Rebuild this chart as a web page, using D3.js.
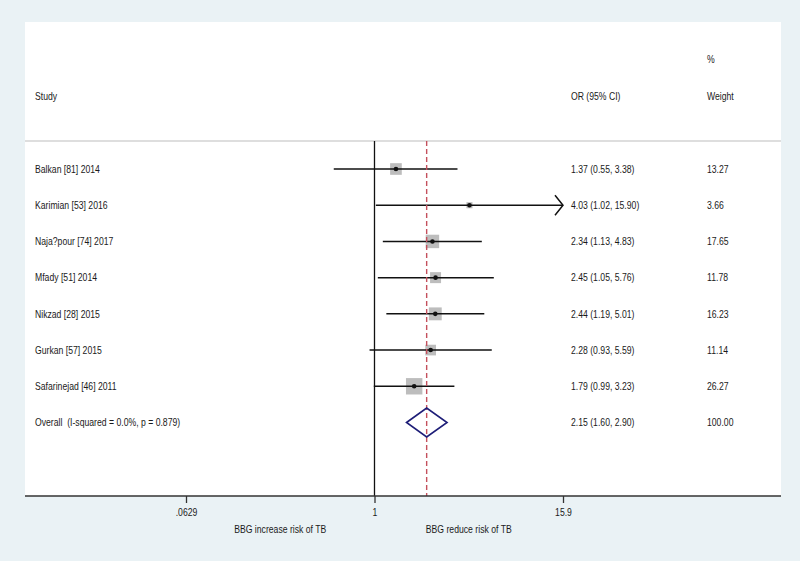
<!DOCTYPE html>
<html>
<head>
<meta charset="utf-8">
<script src="https://cdn.jsdelivr.net/npm/d3@7"></script>
<style>
  html, body { margin: 0; padding: 0; background: #eaf2f5; }
  svg { display: block; }
  text { font-family: "Liberation Sans", Arial, sans-serif; font-size: 10.5px; fill: #1a1a1a; white-space: pre; }
</style>
</head>
<body>
<svg id="chart" width="800" height="561"></svg>
<script>
// ---- data ----
const studies = ["Balkan [81] 2014", "Karimian [53] 2016", "Naja?pour [74] 2017", "Mfady [51] 2014",
                 "Nikzad [28] 2015", "Gurkan [57] 2015", "Safarinejad [46] 2011"];
const orValues = [1.37, 4.03, 2.34, 2.45, 2.44, 2.28, 1.79];
const ciLower  = [0.55, 1.02, 1.13, 1.05, 1.19, 0.93, 0.99];
const ciUpper  = [3.38, 15.90, 4.83, 5.76, 5.01, 5.59, 3.23];
const weights  = [13.27, 3.66, 17.65, 11.78, 16.23, 11.14, 26.27];
const overallLabel = "Overall  (I-squared = 0.0%, p = 0.879)";
const overallOR = 2.15, overallLower = 1.60, overallUpper = 2.90, overallWeight = 100.00;
const tickValues = [0.0629, 1, 15.9];
const tickLabels = [".0629", "1", "15.9"];
const axisNotes = ["BBG increase risk of TB", "BBG reduce risk of TB"];

const fmt2 = d3.format(".2f");
const rows = studies.map((s, i) => ({label: s, or: orValues[i], lo: ciLower[i], hi: ciUpper[i], w: weights[i]}));

const svg = d3.select("#chart");

// condensed text: measure a reference string and squeeze horizontally
const probe = svg.append("text").text(studies[0]);
const sx = 65 / probe.node().getComputedTextLength();
probe.remove();
function addText(g, x, y, str, anchor) {
  return g.append("text")
    .attr("transform", `translate(${x},${y}) scale(${sx},1)`)
    .attr("dy", "0.35em")
    .attr("text-anchor", anchor || "start")
    .text(str);
}

// panel
const panel = {left: 25, right: 781, top: 22, bottom: 496};
svg.append("rect").attr("x", 0).attr("y", 0).attr("width", 800).attr("height", 561).attr("fill", "#eaf2f5");
svg.append("rect").attr("x", panel.left).attr("y", panel.top)
  .attr("width", panel.right - panel.left).attr("height", panel.bottom - panel.top).attr("fill", "#ffffff");

// scales
const x = d3.scaleLog().domain([tickValues[0], tickValues[2]]).range([186, 563]);
const rowLabels = studies.concat([overallLabel]);
const y = d3.scalePoint().domain(rowLabels).range([169, 422.5]);
const side = d3.scaleSqrt().domain([0, 26.27]).range([0, 16.4]);

// header separator
svg.append("line").attr("x1", panel.left).attr("x2", panel.right).attr("y1", 141).attr("y2", 141)
  .attr("stroke", "#d3d3d3").attr("stroke-width", 1.5);

// header text
const colStudy = 35, colOR = 571, colW = 707;
const hg = svg.append("g");
addText(hg, colW, 59, "%");
addText(hg, colStudy, 96, "Study");
addText(hg, colOR, 96, "OR (95% CI)");
addText(hg, colW, 96, "Weight");

// null line
svg.append("line").attr("x1", x(1)).attr("x2", x(1)).attr("y1", 141).attr("y2", panel.bottom)
  .attr("stroke", "#111").attr("stroke-width", 1.3);

// squares
svg.append("g").selectAll("rect").data(rows).join("rect")
  .attr("x", d => x(d.or) - side(d.w) / 2)
  .attr("y", d => y(d.label) - side(d.w) / 2)
  .attr("width", d => side(d.w)).attr("height", d => side(d.w))
  .attr("fill", "#bdbdbd");

// CI lines
const xmax = x.domain()[1];
svg.append("g").selectAll("line").data(rows).join("line")
  .attr("x1", d => x(d.lo)).attr("x2", d => x(Math.min(d.hi, xmax)))
  .attr("y1", d => y(d.label)).attr("y2", d => y(d.label))
  .attr("stroke", "#111").attr("stroke-width", 1.5);

// arrows for truncated CIs
svg.append("g").selectAll("path").data(rows.filter(d => d.hi >= xmax)).join("path")
  .attr("d", d => {
    const tx = x(xmax), ty = y(d.label);
    return `M${tx - 8},${ty - 10} L${tx},${ty} L${tx - 8},${ty + 10}`;
  })
  .attr("fill", "none").attr("stroke", "#111").attr("stroke-width", 1.5);

// point estimates
svg.append("g").selectAll("circle").data(rows).join("circle")
  .attr("cx", d => x(d.or)).attr("cy", d => y(d.label)).attr("r", 2.3).attr("fill", "#111");

// overall dashed line
svg.append("line").attr("x1", x(overallOR)).attr("x2", x(overallOR)).attr("y1", 141).attr("y2", panel.bottom)
  .attr("stroke", "#c4505c").attr("stroke-width", 1.4).attr("stroke-dasharray", "5,3");

// overall diamond
const oy = y(overallLabel);
svg.append("path")
  .attr("d", `M${x(overallLower)},${oy} L${x(overallOR)},${oy - 14.5} L${x(overallUpper)},${oy} L${x(overallOR)},${oy + 14.5} Z`)
  .attr("fill", "none").attr("stroke", "#1e1e78").attr("stroke-width", 1.6);

// row text
const allRows = rows.concat([{label: overallLabel, or: overallOR, lo: overallLower, hi: overallUpper, w: overallWeight}]);
const tg = svg.append("g");
allRows.forEach(d => {
  const yy = y(d.label);
  addText(tg, colStudy, yy, d.label);
  addText(tg, colOR, yy, `${fmt2(d.or)} (${fmt2(d.lo)}, ${fmt2(d.hi)})`);
  addText(tg, colW, yy, fmt2(d.w));
});

// axis
const axis = d3.axisBottom(x).tickValues(tickValues).tickFormat((d, i) => tickLabels[i]).tickSize(7).tickPadding(6).tickSizeOuter(0);
const ag = svg.append("g").attr("transform", `translate(0,${panel.bottom})`).call(axis);
ag.select(".domain").remove();
ag.selectAll(".tick line").attr("stroke", "#333").attr("stroke-width", 1.3);
ag.selectAll(".tick text").attr("fill", "#1a1a1a").attr("transform", `scale(${sx},1)`)
  .style("font-size", "10.5px").style("font-family", '"Liberation Sans", Arial, sans-serif');
svg.append("line").attr("x1", panel.left).attr("x2", panel.right).attr("y1", panel.bottom).attr("y2", panel.bottom)
  .attr("stroke", "#333").attr("stroke-width", 1.5);

// axis notes
const mids = [Math.sqrt(tickValues[0] * tickValues[1]), Math.sqrt(tickValues[1] * tickValues[2])];
const ng = svg.append("g");
axisNotes.forEach((t, i) => addText(ng, x(mids[i]), 529, t, "middle"));
</script>
</body>
</html>
